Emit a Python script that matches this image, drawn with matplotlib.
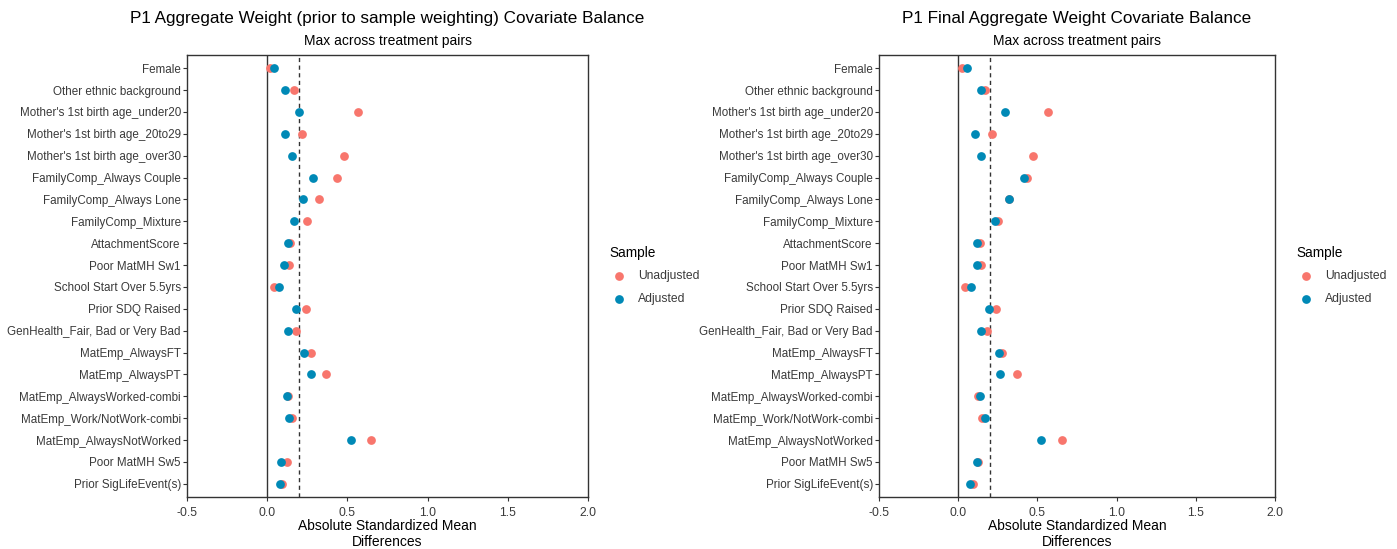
import matplotlib
matplotlib.use("Agg")
import matplotlib.pyplot as plt
from matplotlib.lines import Line2D

plt.rcParams['font.family'] = ['Liberation Sans', 'DejaVu Sans']

covariates = [
    "Female",
    "Other ethnic background",
    "Mother's 1st birth age_under20",
    "Mother's 1st birth age_20to29",
    "Mother's 1st birth age_over30",
    "FamilyComp_Always Couple",
    "FamilyComp_Always Lone",
    "FamilyComp_Mixture",
    "AttachmentScore",
    "Poor MatMH Sw1",
    "School Start Over 5.5yrs",
    "Prior SDQ Raised",
    "GenHealth_Fair, Bad or Very Bad",
    "MatEmp_AlwaysFT",
    "MatEmp_AlwaysPT",
    "MatEmp_AlwaysWorked-combi",
    "MatEmp_Work/NotWork-combi",
    "MatEmp_AlwaysNotWorked",
    "Poor MatMH Sw5",
    "Prior SigLifeEvent(s)",
]

# Prior-to-sample-weighting panel
p1_unadjusted = [0.015, 0.168, 0.567, 0.218, 0.476, 0.434, 0.324, 0.249, 0.143, 0.139,
                 0.042, 0.239, 0.181, 0.276, 0.368, 0.129, 0.154, 0.648, 0.123, 0.092]
p1_adjusted = [0.040, 0.108, 0.197, 0.108, 0.152, 0.283, 0.222, 0.164, 0.127, 0.104,
               0.073, 0.179, 0.129, 0.229, 0.270, 0.121, 0.137, 0.520, 0.083, 0.079]

# Final aggregate weight panel
p2_unadjusted = [0.027, 0.169, 0.565, 0.215, 0.473, 0.436, 0.323, 0.252, 0.135, 0.142,
                 0.042, 0.240, 0.179, 0.275, 0.369, 0.123, 0.150, 0.654, 0.123, 0.092]
p2_adjusted = [0.054, 0.146, 0.296, 0.109, 0.146, 0.415, 0.323, 0.234, 0.121, 0.121,
               0.079, 0.196, 0.146, 0.258, 0.263, 0.137, 0.167, 0.520, 0.119, 0.077]

x_ticks = [-0.5, 0.0, 0.5, 1.0, 1.5, 2.0]
x_ticklabels = ["-0.5", "0.0", "0.5", "1.0", "1.5", "2.0"]
threshold = 0.2

titles = ["P1 Aggregate Weight (prior to sample weighting) Covariate Balance",
          "P1 Final Aggregate Weight Covariate Balance"]
subtitle = "Max across treatment pairs"
xlabel_lines = ["Absolute Standardized Mean", "Differences"]

RED = "#F8766D"
BLUE = "#0089B6"
TEXT = "#3A3A3A"

W, H = 1397, 549
fig = plt.figure(figsize=(W / 100, H / 100), dpi=100)

panels = [
    (187, 588, p1_unadjusted, p1_adjusted, titles[0]),
    (879, 1275, p2_unadjusted, p2_adjusted, titles[1]),
]

top_px, bottom_px = 55, 497
ypos = list(range(1, len(covariates) + 1))

for left_px, right_px, unadj, adj, title in panels:
    ax = fig.add_axes([left_px / W, 1 - bottom_px / H,
                       (right_px - left_px) / W, (bottom_px - top_px) / H])
    ax.axvline(0, color="#333333", lw=1.0, zorder=1)
    ax.axvline(threshold, color="#333333", lw=1.0, ls=(0, (3, 2.5)), zorder=1)
    ax.plot(unadj, ypos, "o", color=RED, ms=6.3, mec="none", zorder=3)
    ax.plot(adj, ypos, "o", color=BLUE, ms=6.3, mec="none", zorder=4)
    ax.set_xlim(-0.5, 2.0)
    ax.set_ylim(len(covariates) + 0.6, 0.4)
    ax.set_yticks(ypos)
    ax.set_yticklabels(covariates, fontsize=8.4, color=TEXT)
    ax.set_xticks(x_ticks)
    ax.set_xticklabels(x_ticklabels, fontsize=8.8, color=TEXT)
    ax.tick_params(axis="y", length=3, width=0.8, color="#333333", pad=1.5)
    ax.tick_params(axis="x", length=3, width=0.8, color="#333333", pad=4)
    for s in ax.spines.values():
        s.set_color("#333333")
        s.set_linewidth(1.0)
    cx = (left_px + right_px) / 2 / W
    fig.text(cx, 1 - 526 / H, xlabel_lines[0], ha="center", va="center", fontsize=10, color="black")
    fig.text(cx, 1 - 541.5 / H, xlabel_lines[1], ha="center", va="center", fontsize=10, color="black")
    fig.text(cx, 1 - 18 / H, title, ha="center", va="center", fontsize=12.3, color="black")
    fig.text(cx, 1 - 41 / H, subtitle, ha="center", va="center", fontsize=10, color="black")

    # Legend
    lx = right_px + 21
    fig.text(lx / W, 1 - 253 / H, "Sample", ha="left", va="center", fontsize=9.8, color="black")
    for i, (lab, col) in enumerate([("Unadjusted", RED), ("Adjusted", BLUE)]):
        yy = 1 - (276 + 23 * i) / H
        fig.add_artist(Line2D([(lx + 10) / W], [yy], marker="o", color=col, ms=6.3,
                              mec="none", transform=fig.transFigure))
        fig.text((lx + 29) / W, yy, lab, ha="left", va="center", fontsize=8.7, color=TEXT)

fig.savefig("out.png", dpi=100, facecolor="white")
